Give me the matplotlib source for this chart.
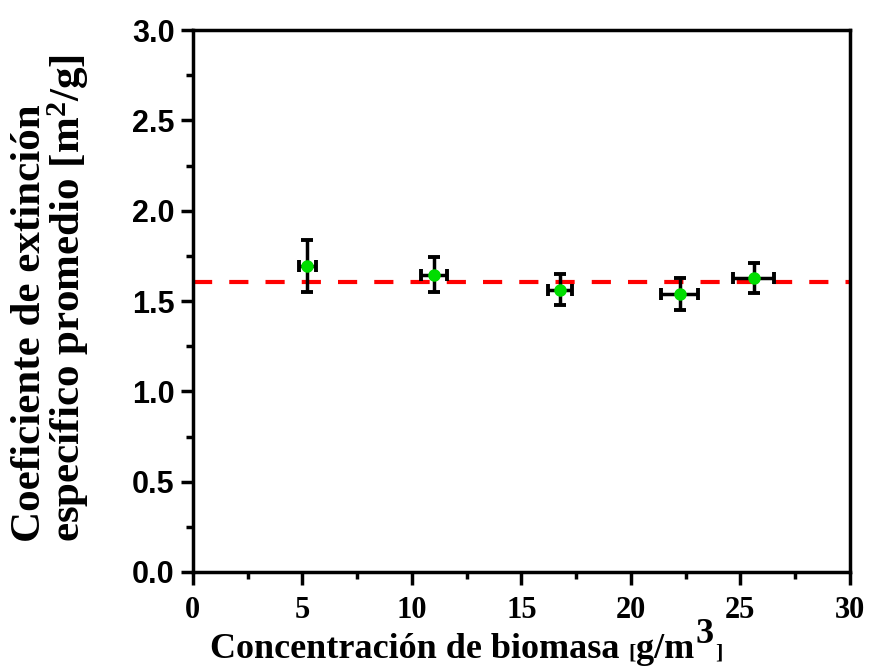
import numpy as np
import matplotlib.pyplot as plt
from matplotlib.ticker import MultipleLocator

plt.rcParams['mathtext.fontset'] = 'custom'
plt.rcParams['mathtext.rm'] = 'Liberation Serif:bold'
plt.rcParams['mathtext.bf'] = 'Liberation Serif:bold'
plt.rcParams['mathtext.default'] = 'bf'

# biomass concentration (g/m3) and mean specific extinction coefficient (m2/g)
conc = [5.22, 11.02, 16.77, 22.22, 25.6]
conc_err = [0.38, 0.59, 0.55, 0.84, 0.93]
coef = [1.694, 1.644, 1.561, 1.539, 1.629]
coef_err_low = [0.144, 0.094, 0.085, 0.091, 0.087]
coef_err_high = [0.145, 0.100, 0.087, 0.090, 0.084]
coef_mean = 1.606

fig = plt.figure(figsize=(8.69, 6.69), dpi=100)
ax = fig.add_axes([0.222, 0.145, 0.756, 0.81])

ax.axhline(coef_mean, color='#ff0000', lw=3, ls=(0, (4.6, 4.1)), zorder=1)
ax.errorbar(conc, coef, xerr=conc_err, yerr=[coef_err_low, coef_err_high],
            fmt='o', color='#00dd00', ms=8, mec='#00dd00',
            ecolor='black', elinewidth=2.5, capsize=4.5, capthick=2.8, zorder=3)

ax.set_xlim(0, 30)
ax.set_ylim(0, 3.0)
ax.xaxis.set_major_locator(MultipleLocator(5))
ax.xaxis.set_minor_locator(MultipleLocator(2.5))
ax.yaxis.set_major_locator(MultipleLocator(0.5))
ax.yaxis.set_minor_locator(MultipleLocator(0.25))
ax.set_yticks(np.arange(0, 3.01, 0.5))
ax.set_yticklabels([f'{v:.1f}' for v in np.arange(0, 3.01, 0.5)])

for s in ax.spines.values():
    s.set_linewidth(2.5)
ax.tick_params(which='major', direction='out', length=9, width=2.5)
ax.tick_params(which='minor', direction='out', length=5, width=2.5)
ax.tick_params(axis='x', pad=8)
ax.tick_params(axis='y', pad=4)

for lab in ax.get_yticklabels():
    lab.set_fontfamily('Liberation Sans')
    lab.set_fontweight('bold')
    lab.set_fontsize(22)
for lab in ax.get_xticklabels():
    lab.set_fontfamily('Liberation Serif')
    lab.set_fontweight('bold')
    lab.set_fontsize(22)

# x label built in pieces: small brackets, raised full-size exponent
serif = dict(fontfamily='Liberation Serif', fontweight='bold')
base_y = 0.016
t1 = fig.text(0.2417, base_y, 'Concentración de biomasa ', fontsize=26,
              va='baseline', **serif)
t2 = ax.annotate('[', xy=(1, base_y), xycoords=(t1, 'figure fraction'),
                 va='baseline', fontsize=16, annotation_clip=False, **serif)
t3 = ax.annotate('g/m', xy=(1, base_y), xycoords=(t2, 'figure fraction'),
                 va='baseline', fontsize=26, annotation_clip=False, **serif)
t4 = ax.annotate('3', xy=(1, base_y), xycoords=(t3, 'figure fraction'),
                 xytext=(1, 11), textcoords='offset points', va='baseline',
                 fontsize=26, annotation_clip=False, **serif)
ax.annotate(']', xy=(1, base_y), xycoords=(t4, 'figure fraction'),
            xytext=(1, 0), textcoords='offset points', va='baseline',
            fontsize=16, annotation_clip=False, **serif)

fig.text(0.0587, 0.555, 'Coeficiente de extinción\nespecífico promedio [m$^2$/g]',
         rotation=90, ha='center', va='center', multialignment='left',
         fontsize=31, linespacing=0.87, **serif)

fig.savefig('out.png', dpi=100)
